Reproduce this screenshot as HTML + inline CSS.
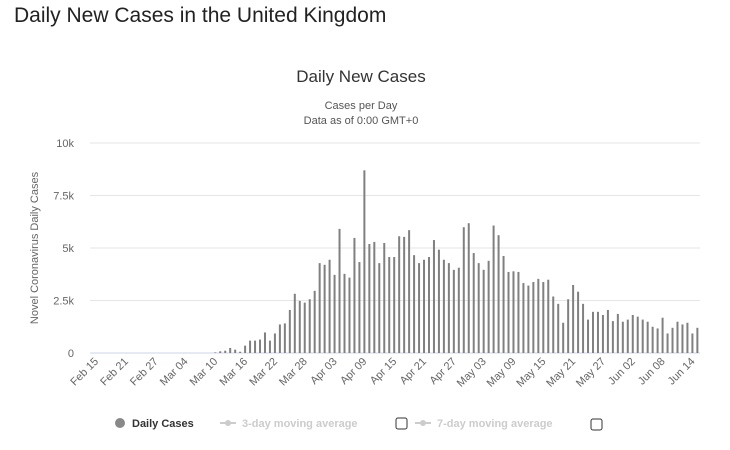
<!DOCTYPE html>
<html><head><meta charset="utf-8"><style>
body{margin:0;background:#fff;font-family:"Liberation Sans",sans-serif;}
#wrap{position:relative;width:730px;height:450px;overflow:hidden;}
h1{position:absolute;left:14px;top:4px;margin:0;font-weight:normal;font-size:21px;color:#222;}
</style></head><body>
<div id="wrap">
<h1>Daily New Cases in the United Kingdom</h1>
<svg id="chart" width="730" height="450" style="position:absolute;left:0;top:0">
<text x="361" y="82" text-anchor="middle" font-size="17" fill="#333">Daily New Cases</text>
<text x="361" y="109" text-anchor="middle" font-size="11" fill="#555">Cases per Day</text>
<text x="361" y="124" text-anchor="middle" font-size="11" fill="#555">Data as of 0:00 GMT+0</text>
<text transform="translate(38,248) rotate(-90)" text-anchor="middle" font-size="11" fill="#666">Novel Coronavirus Daily Cases</text>
<g id="grid"></g><g id="bars"></g><g id="xlabels"></g><g id="ylabels"></g>
<g>
<circle cx="120" cy="423" r="5" fill="#888"/>
<text x="132" y="427" font-size="11" font-weight="bold" fill="#333">Daily Cases</text>
<line x1="220" y1="423" x2="236" y2="423" stroke="#ccc" stroke-width="2"/><circle cx="228" cy="423" r="3" fill="#ccc"/>
<text x="242" y="427" font-size="11" font-weight="bold" fill="#ccc">3-day moving average</text>
<rect x="396" y="418" width="11" height="11" rx="2" fill="#fff" stroke="#333"/>
<line x1="415" y1="423" x2="431" y2="423" stroke="#ccc" stroke-width="2"/><circle cx="423" cy="423" r="3" fill="#ccc"/>
<text x="437" y="427" font-size="11" font-weight="bold" fill="#ccc">7-day moving average</text>
<rect x="591" y="419" width="11" height="11" rx="2" fill="#fff" stroke="#333"/>
</g>
</svg>
</div>
<script>
const startDate = [2020, 2, 15];
const yTicks = [0, 2500, 5000, 7500, 10000];
const yTickLabels = ["0", "2.5k", "5k", "7.5k", "10k"];
const cases = [0,0,0,0,0,0,0,0,0,0,0,0,0,0,0,0,0,0,0,0,0,0,0,0,
30,80,110,240,160,60,350,590,590,640,980,590,930,1360,1410,2050,2820,2480,2400,2560,2960,4280,4200,4440,3720,5910,3770,3590,5480,4330,8700,5190,5290,4280,5240,4570,4570,5560,5530,5850,4660,4280,4440,4570,5380,4920,4440,4280,
3960,4060,5990,6180,4760,4280,3960,4390,6070,5610,4620,3860,3890,3860,3330,3210,3380,3530,3380,3490,2690,2340,1440,2560,3240,2920,2340,1590,1960,1960,1810,2050,1520,1860,1490,1590,1810,1730,1590,1490,1250,1170,1680,930,1200,1490,1360,1440,930,1200];
const NS="http://www.w3.org/2000/svg";
const x0=96, dx=4.97, yBase=353, yTop=143, yMax=10000;
function xS(i){return x0+i*dx;}
function yS(v){return yBase-(v/yMax)*(yBase-yTop);}
function mk(t,a){const e=document.createElementNS(NS,t);for(const k in a)e.setAttribute(k,a[k]);return e;}
const grid=document.getElementById('grid'), yl=document.getElementById('ylabels');
yTicks.forEach((v,i)=>{
  const l=mk('line',{x1:90,x2:700,y1:yS(v),y2:yS(v),stroke:i===0?'#ccd6eb':'#e6e6e6','stroke-width':1});
  
  
  grid.appendChild(l);
  const t=mk('text',{x:74,y:yS(v)+4,'text-anchor':'end','font-size':11,fill:'#666'});
  t.textContent=yTickLabels[i];
  
  
  yl.appendChild(t);
});
const bars=document.getElementById('bars');
cases.forEach((v,i)=>{
  if(v<=0)return;
  const r=mk('rect',{x:xS(i)-1,y:yS(v),width:2,height:yBase-yS(v),fill:'#808080'});
  
  
  bars.appendChild(r);
});
const mon=["Jan","Feb","Mar","Apr","May","Jun","Jul"];
const xl=document.getElementById('xlabels');
for(let i=0;i<cases.length;i+=6){
  const d=new Date(startDate[0],startDate[1]-1,startDate[2]+i);
  const s=mon[d.getMonth()]+" "+String(d.getDate()).padStart(2,'0');
  const x=xS(i)+3, y=362;
  const t=mk('text',{x:x,y:y,'text-anchor':'end','font-size':11,fill:'#666',transform:`rotate(-45 ${x} ${y})`});
  t.textContent=s;
  
  
  xl.appendChild(t);
}
</script>
</body></html>
